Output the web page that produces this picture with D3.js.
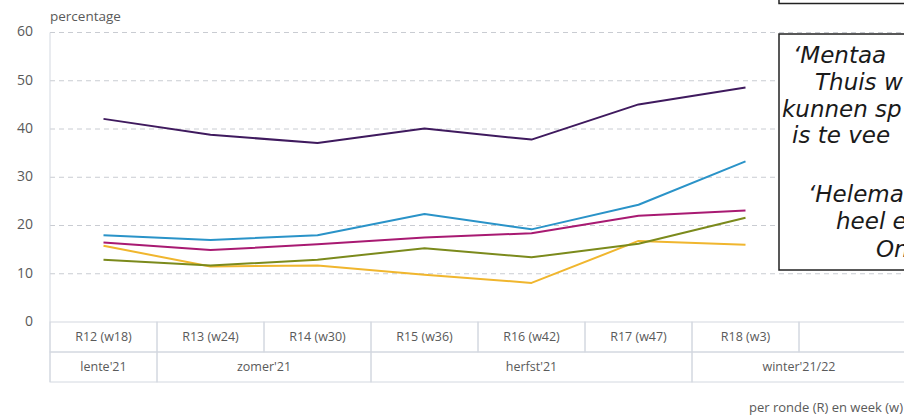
<!DOCTYPE html>
<html lang="nl">
<head>
	<meta charset="utf-8">
	<script src="https://cdn.jsdelivr.net/npm/d3@7"></script>
	<style>
		body{ margin:0; background:#fff; }
		text{ font-family:"Open Sans", sans-serif; fill:#5a5a5a; }
		.grid line{ stroke:#c9ccd2; stroke-dasharray:5,4; }
		.cell{ stroke:#d3d8e0; fill:none; }
		.serie{ fill:none; stroke-width:2px; stroke-linejoin:round; }
		.quote text{ font-family:"DejaVu Sans", Verdana, sans-serif; font-style:italic; fill:#1a1a1a; font-size:23px; }
	</style>
</head>
<body>
	<script>
		var width = 904, height = 418;

		// rondes (columns) - last column empty
		var rounds = ["R12 (w18)", "R13 (w24)", "R14 (w30)", "R15 (w36)", "R16 (w42)", "R17 (w47)", "R18 (w3)", ""];
		var seasons = ["lente'21", "zomer'21", "herfst'21", "winter'21/22"];
		var seasonSpan = [1, 2, 3, 2];
		var yTicks = [0, 10, 20, 30, 40, 50, 60];

		// series values per round R12..R18
		var purple = [42.1, 38.8, 37.1, 40.1, 37.8, 45.1, 48.6];
		var blue = [18.0, 17.0, 18.0, 22.4, 19.2, 24.3, 33.3];
		var magenta = [16.5, 14.9, 16.1, 17.5, 18.4, 22.0, 23.1];
		var olive = [12.9, 11.7, 12.9, 15.3, 13.4, 16.2, 21.6];
		var yellow = [15.8, 11.5, 11.7, 9.8, 8.1, 16.8, 16.0];

		var series = [
			{ name:"yellow", values:yellow, color:"#f0b62e" },
			{ name:"olive", values:olive, color:"#7b8a1c" },
			{ name:"magenta", values:magenta, color:"#a81a72" },
			{ name:"blue", values:blue, color:"#2a93c8" },
			{ name:"purple", values:purple, color:"#3f1a5e" }
		];

		var quote1 = ["\u2018Mentaa", "Thuis w", "kunnen sp", "is te vee"];
		var quote2 = ["\u2018Helemaa", "heel e", "On"];

		var left = 50, colW = 107, plotTop = 32.5, plotBottom = 322, rowH = 30;

		var svg = d3.select("body").append("svg")
			.attr("width", width)
			.attr("height", height);

		var x = d3.scaleBand().domain(d3.range(rounds.length)).range([left, left + colW * rounds.length]).padding(0);
		var y = d3.scaleLinear().domain([0, 60]).range([plotBottom, plotTop]);

		// grid
		var grid = svg.append("g").attr("class", "grid");
		grid.selectAll("line")
			.data(yTicks.filter(function(d){ return d > 0; }))
			.enter().append("line")
			.attr("x1", left).attr("x2", width)
			.attr("y1", function(d){ return y(d); })
			.attr("y2", function(d){ return y(d); });

		// y axis labels
		svg.append("g").selectAll("text")
			.data(yTicks).enter().append("text")
			.attr("x", 33)
			.attr("y", function(d){ return y(d) - 1; })
			.attr("dy", "0.35em")
			.attr("text-anchor", "end")
			.style("font-size", "14px")
			.text(function(d){ return d; });

		svg.append("text")
			.attr("x", left)
			.attr("y", 21)
			.style("font-size", "13.5px")
			.text("percentage");

		svg.append("line")
			.attr("class", "cell")
			.attr("x1", left).attr("x2", left)
			.attr("y1", plotTop).attr("y2", plotBottom + rowH * 2);

		// table rows
		var table = svg.append("g");
		table.selectAll("rect.round")
			.data(rounds).enter().append("rect")
			.attr("class", "cell round")
			.attr("x", function(d, i){ return x(i); })
			.attr("y", plotBottom)
			.attr("width", x.bandwidth())
			.attr("height", rowH);
		table.selectAll("text.round")
			.data(rounds).enter().append("text")
			.attr("class", "round")
			.attr("x", function(d, i){ return x(i) + x.bandwidth() / 2; })
			.attr("y", plotBottom + rowH / 2)
			.attr("dy", "0.35em")
			.attr("text-anchor", "middle")
			.style("font-size", "12.5px")
			.text(function(d){ return d; });

		var start = 0;
		var seasonData = seasons.map(function(s, i){
			var o = { name:s, start:start, n:seasonSpan[i] };
			start += seasonSpan[i];
			return o;
		});
		table.selectAll("rect.season")
			.data(seasonData).enter().append("rect")
			.attr("class", "cell season")
			.attr("x", function(d){ return x(d.start); })
			.attr("y", plotBottom + rowH)
			.attr("width", function(d){ return x.bandwidth() * d.n; })
			.attr("height", rowH);
		table.selectAll("text.season")
			.data(seasonData).enter().append("text")
			.attr("x", function(d){ return x(d.start) + x.bandwidth() * d.n / 2; })
			.attr("y", plotBottom + rowH * 1.5)
			.attr("dy", "0.35em")
			.attr("text-anchor", "middle")
			.style("font-size", "12.5px")
			.text(function(d){ return d.name; });

		svg.append("text")
			.attr("x", 903)
			.attr("y", 412)
			.attr("text-anchor", "end")
			.style("font-size", "13px")
			.text("per ronde (R) en week (w)");

		// lines
		var line = d3.line()
			.x(function(d, i){ return x(i) + x.bandwidth() / 2; })
			.y(function(d){ return y(d); });

		svg.append("g").selectAll("path")
			.data(series).enter().append("path")
			.attr("class", "serie")
			.attr("stroke", function(d){ return d.color; })
			.attr("d", function(d){ return line(d.values); });

		// quote boxes (cut off at the right, like the source)
		svg.append("rect")
			.attr("x", 779).attr("y", -40)
			.attr("width", 200).attr("height", 43.5)
			.attr("fill", "#fff").attr("stroke", "#222").attr("stroke-width", 1.5);

		var quote = svg.append("g").attr("class", "quote");
		quote.append("rect")
			.attr("x", 779).attr("y", 34)
			.attr("width", 200).attr("height", 236)
			.attr("fill", "#fff").attr("stroke", "#222").attr("stroke-width", 1.5);

		var qx1 = [793, 815, 782, 792];
		var qx2 = [808, 836, 876];
		quote.selectAll("text.q1")
			.data(quote1).enter().append("text")
			.attr("class", "q1")
			.attr("x", function(d, i){ return qx1[i]; })
			.attr("y", function(d, i){ return 63 + i * 26.8; })
			.text(function(d){ return d; });
		quote.selectAll("text.q2")
			.data(quote2).enter().append("text")
			.attr("class", "q2")
			.attr("x", function(d, i){ return qx2[i]; })
			.attr("y", function(d, i){ return 201.5 + i * 27.5; })
			.text(function(d){ return d; });
	</script>
</body>
</html>
